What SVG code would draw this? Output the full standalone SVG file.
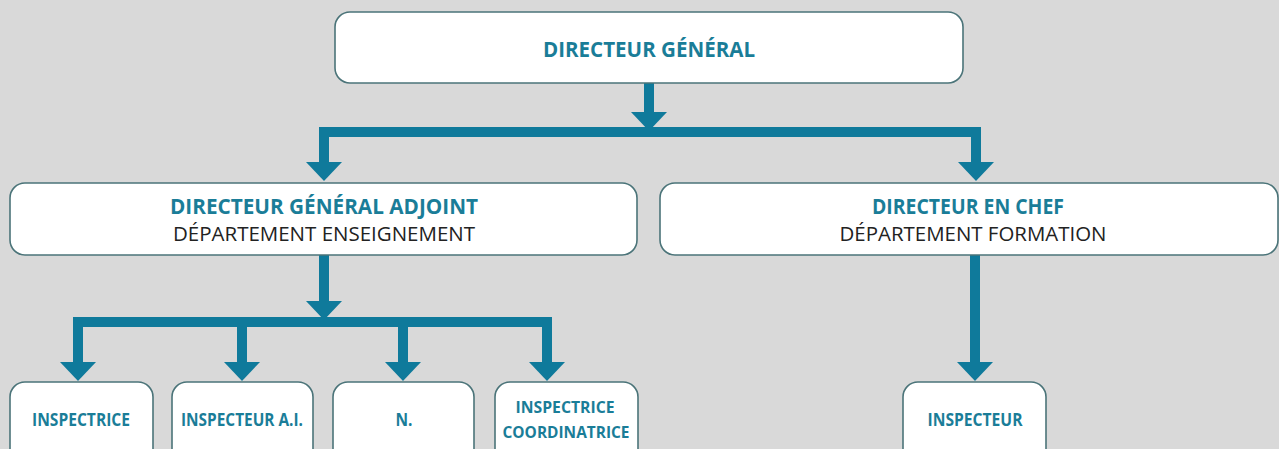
<svg xmlns="http://www.w3.org/2000/svg" width="1279" height="449" viewBox="0 0 1279 449">
  <defs>
    <marker id="ah" markerUnits="userSpaceOnUse" viewBox="0 0 19 36" markerWidth="19" markerHeight="36" refX="0" refY="18" orient="auto">
      <path d="M0,0 L19,18 L0,36 Z" fill="#0f7a9b"/>
    </marker>
  </defs>
  <style>
    .bg { fill: #d9d9d9; }
    .box { fill: #ffffff; stroke: #4b7479; stroke-width: 1.6; }
    .t { font-family: "Open Sans", "Liberation Sans", sans-serif; font-weight: bold; fill: #1a7d98; text-anchor: middle; }
    .s { font-family: "Open Sans", "Liberation Sans", sans-serif; font-weight: normal; fill: #222222; text-anchor: middle; }
    .c { fill: none; stroke: #0f7a9b; stroke-width: 10; stroke-linejoin: miter; stroke-linecap: butt; marker-end: url(#ah); }
  </style>
  <rect class="bg" x="0" y="0" width="1279" height="449"/>

  <g id="connectors">
    <path class="c" d="M649,83 V112"/>
    <path class="c" d="M649,132 H324 V162"/>
    <path class="c" d="M649,132 H976 V162"/>
    <path class="c" d="M324,255 V301"/>
    <path class="c" d="M324,322 H78 V362"/>
    <path class="c" d="M324,322 H242 V362"/>
    <path class="c" d="M324,322 H403 V362"/>
    <path class="c" d="M324,322 H547 V362"/>
    <path class="c" d="M975,255 V362"/>
  </g>

  <g id="directeur-general">
    <rect class="box" x="335" y="12" width="628" height="71" rx="15"/>
    <text class="t" x="649" y="57" font-size="21" textLength="212" lengthAdjust="spacingAndGlyphs">DIRECTEUR GÉNÉRAL</text>
  </g>

  <g id="dga">
    <rect class="box" x="10" y="183" width="627" height="72" rx="15"/>
    <text class="t" x="324" y="214" font-size="21" textLength="308" lengthAdjust="spacingAndGlyphs">DIRECTEUR GÉNÉRAL ADJOINT</text>
    <text class="s" x="324" y="241" font-size="19.5" textLength="302" lengthAdjust="spacingAndGlyphs">DÉPARTEMENT ENSEIGNEMENT</text>
  </g>

  <g id="dec">
    <rect class="box" x="660" y="183" width="618" height="72" rx="15"/>
    <text class="t" x="968" y="214" font-size="21" textLength="192" lengthAdjust="spacingAndGlyphs">DIRECTEUR EN CHEF</text>
    <text class="s" x="973" y="241" font-size="19.5" textLength="267" lengthAdjust="spacingAndGlyphs">DÉPARTEMENT FORMATION</text>
  </g>

  <g id="inspectrice">
    <rect class="box" x="10" y="382" width="143" height="85" rx="15"/>
    <text class="t" x="81" y="426" font-size="17" textLength="98" lengthAdjust="spacingAndGlyphs">INSPECTRICE</text>
  </g>

  <g id="inspecteur-ai">
    <rect class="box" x="172" y="382" width="141" height="85" rx="15"/>
    <text class="t" x="242" y="426" font-size="17" textLength="122" lengthAdjust="spacingAndGlyphs">INSPECTEUR A.I.</text>
  </g>

  <g id="n">
    <rect class="box" x="333" y="382" width="141" height="85" rx="15"/>
    <text class="t" x="404" y="426" font-size="17" textLength="17" lengthAdjust="spacingAndGlyphs">N.</text>
  </g>

  <g id="inspectrice-coordinatrice">
    <rect class="box" x="495" y="382" width="143" height="85" rx="15"/>
    <text class="t" x="565" y="413" font-size="16" textLength="99" lengthAdjust="spacingAndGlyphs">INSPECTRICE</text>
    <text class="t" x="566" y="438" font-size="16" textLength="127" lengthAdjust="spacingAndGlyphs">COORDINATRICE</text>
  </g>

  <g id="inspecteur">
    <rect class="box" x="903" y="382" width="143" height="85" rx="15"/>
    <text class="t" x="975" y="426" font-size="17" textLength="95" lengthAdjust="spacingAndGlyphs">INSPECTEUR</text>
  </g>
</svg>
